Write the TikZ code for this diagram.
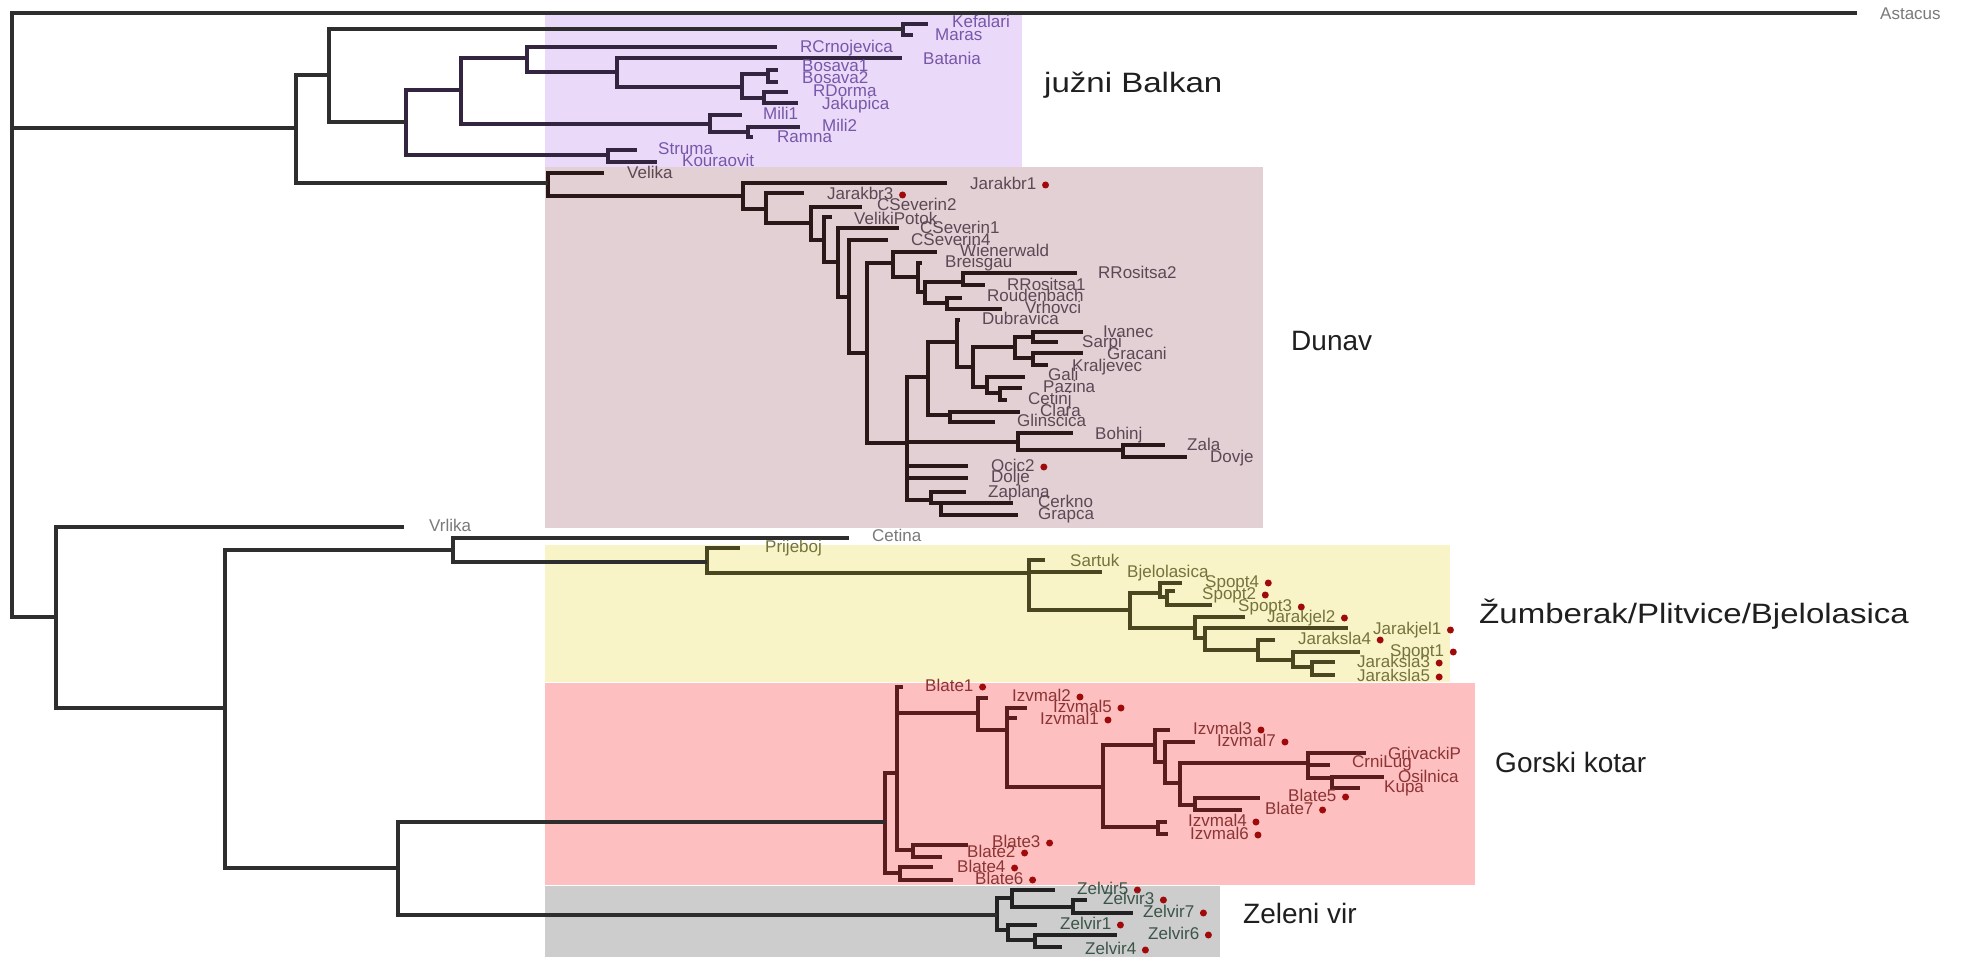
\documentclass[tikz,border=0pt]{standalone}
\usepackage{graphicx}
\usepackage{fontspec}
\setmainfont{Liberation Sans}
\pgfdeclarelayer{fg}
\pgfsetlayers{main,fg}
\definecolor{bgPu}{HTML}{EBD9FA}
\definecolor{bgDu}{HTML}{E2D0D5}
\definecolor{bgYe}{HTML}{F8F4C8}
\definecolor{bgRe}{HTML}{FDBFBF}
\definecolor{bgGr}{HTML}{CDCDCD}
\definecolor{lnOut}{HTML}{2E2E2E}
\definecolor{lnPu}{HTML}{33243F}
\definecolor{txPu}{HTML}{7657A8}
\definecolor{lnDu}{HTML}{2A1818}
\definecolor{txDu}{HTML}{5C4854}
\definecolor{lnYe}{HTML}{4A4620}
\definecolor{txYe}{HTML}{75733C}
\definecolor{lnRe}{HTML}{5A1C1C}
\definecolor{txRe}{HTML}{8C3434}
\definecolor{lnGr}{HTML}{222222}
\definecolor{txGr}{HTML}{3A5548}
\definecolor{txOut}{HTML}{7A7A7A}
\definecolor{dotred}{HTML}{A00A0A}
\tikzset{br/.style={line width=3.1pt,line join=miter,line cap=butt}}
% children of a parent: rectangular (elbow) connectors
\newcommand\kids[2]{\foreach \ch in {#2}{\draw[br] (#1) |- (\ch);}}
% leaf: name, tip x, tip y, label x, label y, text
\newcommand\leaf[6]{\coordinate (#1) at (#2,#3);%
  \begin{pgfonlayer}{fg}\node[lab] (#1-l) at (#4,#5) {#6};\end{pgfonlayer}}
\newcommand\dt[1]{\begin{pgfonlayer}{fg}\node[rdot] (#1-d) at ([xshift=9pt]#1-l.east) {};\end{pgfonlayer}}
\begin{document}
\begin{tikzpicture}[x=1pt,y=-1pt,
  lab/.style={anchor=west,inner sep=0pt,text height=12pt,text depth=3.5pt,font=\fontsize{17}{18}\selectfont},
  grp/.style={anchor=west,inner sep=0pt,text=black!88,font=\fontsize{28}{30}\selectfont},
  rdot/.style={circle,fill=dotred,draw=none,inner sep=0pt,minimum size=7pt}]
\useasboundingbox (0,0) rectangle (1965,957);
\fill[white] (0,0) rectangle (1965,957);
% clade backgrounds
\fill[bgPu] (545,15) rectangle (1022,167);
\fill[bgDu] (545,167) rectangle (1263,528);
\fill[bgYe] (545,545) rectangle (1450,682);
\fill[bgRe] (545,683) rectangle (1475,885);
\fill[bgGr] (545,886) rectangle (1220,957);

% ---------------- juzni Balkan
\begin{scope}[color=lnPu,every node/.append style={text=txPu}]
\coordinate (k0) at (903,29);
\leaf{Kefalari}{928}{24}{952}{23}{Kefalari}
\leaf{Maras}{913}{35}{935}{36}{Maras}
\coordinate (p1) at (406,122);
\coordinate (p2) at (461,90);
\coordinate (st) at (608,155);
\coordinate (p3) at (527,58);
\coordinate (mi) at (710,124);
\leaf{RCrnojevica}{777}{47}{800}{48}{RCrnojevica}
\coordinate (p4) at (617,72);
\leaf{Batania}{902}{58}{923}{60}{Batania}
\coordinate (p5) at (742,87);
\coordinate (bo) at (768,74);
\coordinate (rj) at (764,98);
\leaf{Bosava1}{778}{70}{802}{67}{Bosava1}
\leaf{Bosava2}{778}{82}{802}{79}{Bosava2}
\leaf{RDorma}{788}{92}{813}{92}{RDorma}
\leaf{Jakupica}{798}{103}{822}{105}{Jakupica}
\leaf{Mili1}{742}{115}{763}{115}{Mili1}
\coordinate (mr) at (748,132);
\leaf{Mili2}{800}{127}{822}{127}{Mili2}
\leaf{Ramna}{753}{137}{777}{138}{Ramna}
\leaf{Struma}{637}{150}{658}{150}{Struma}
\leaf{Kouraovit}{657}{162}{682}{162}{Kouraovit}
\kids{k0}{Kefalari,Maras}
\kids{p1}{p2,st}
\kids{p2}{p3,mi}
\kids{p3}{RCrnojevica,p4}
\kids{p4}{Batania,p5}
\kids{p5}{bo,rj}
\kids{bo}{Bosava1,Bosava2}
\kids{rj}{RDorma,Jakupica}
\kids{mi}{Mili1,mr}
\kids{mr}{Mili2,Ramna}
\kids{st}{Struma,Kouraovit}
\end{scope}

% ---------------- Dunav
\begin{scope}[color=lnDu,every node/.append style={text=txDu}]
\coordinate (d0) at (548,183);
\leaf{Velika}{604}{173}{627}{174}{Velika}
\coordinate (dA) at (743,196);
\leaf{Jarakbr1}{947}{183}{970}{185}{Jarakbr1}\dt{Jarakbr1}
\coordinate (dB) at (766,209);
\leaf{Jarakbr3}{804}{193}{827}{195}{Jarakbr3}\dt{Jarakbr3}
\coordinate (dC) at (811,223);
\leaf{CSeverin2}{862}{207}{877}{206}{CSeverin2}
\coordinate (dD) at (824,240);
\leaf{VelikiPotok}{832}{217}{854}{220}{VelikiPotok}
\coordinate (dE) at (838,262);
\leaf{CSeverin1}{899}{228}{920}{229}{CSeverin1}
\coordinate (dF) at (849,297);
\leaf{CSeverin4}{888}{240}{911}{241}{CSeverin4}
\coordinate (dG) at (867,353);
\coordinate (dH) at (893,263);
\coordinate (dM) at (907,443);
\leaf{Wienerwald}{937}{252}{960}{252}{Wienerwald}
\coordinate (dI) at (918,277);
\leaf{Breisgau}{922}{263}{945}{263}{Breisgau}
\coordinate (dJ) at (925,292);
\coordinate (dK) at (963,282);
\coordinate (dL) at (947,303);
\leaf{RRositsa2}{1077}{273}{1098}{274}{RRositsa2}
\leaf{RRositsa1}{985}{285}{1007}{286}{RRositsa1}
\leaf{Roudenbach}{962}{298}{987}{297}{Roudenbach}
\leaf{Vrhovci}{1002}{309}{1025}{309}{Vrhovci}
\coordinate (dN) at (928,377);
\coordinate (dO) at (1018,442);
\leaf{Ocic2}{968}{466}{991}{467}{Ocic2}\dt{Ocic2}
\leaf{Dolje}{968}{478}{991}{478}{Dolje}
\coordinate (dP) at (931,500);
\coordinate (dR) at (957,342);
\coordinate (dY) at (950,415);
\leaf{Dubravica}{960}{320}{982}{320}{Dubravica}
\coordinate (dS) at (973,367);
\coordinate (dT) at (1015,347);
\coordinate (dW) at (987,387);
\coordinate (dU) at (1033,337);
\coordinate (dV) at (1033,358);
\leaf{Ivanec}{1083}{332}{1103}{333}{Ivanec}
\leaf{Sarpi}{1058}{342}{1082}{343}{Sarpi}
\leaf{Gracani}{1083}{353}{1107}{355}{Gracani}
\leaf{Kraljevec}{1048}{365}{1072}{367}{Kraljevec}
\leaf{Gali}{1025}{377}{1048}{376}{Gali}
\coordinate (dX) at (1000,393);
\leaf{Pazina}{1022}{388}{1043}{388}{Pazina}
\leaf{CeSi}{1007}{400}{1028}{400}{Cetinj}
\leaf{Cla}{1020}{412}{1040}{412}{Clara}
\leaf{Glinscica}{995}{422}{1017}{422}{Glinscica}
\leaf{Bohinj}{1073}{433}{1095}{435}{Bohinj}
\coordinate (dZ) at (1123,450);
\leaf{Zala}{1165}{445}{1187}{446}{Zala}
\leaf{Dovje}{1187}{457}{1210}{458}{Dovje}
\leaf{Zaplana}{966}{492}{988}{493}{Zaplana}
\coordinate (dQ) at (941,503);
\leaf{Cerkno}{1013}{503}{1038}{503}{Cerkno}
\leaf{Grapca}{1018}{515}{1038}{515}{Grapca}
\kids{d0}{Velika,dA}
\kids{dA}{Jarakbr1,dB}
\kids{dB}{Jarakbr3,dC}
\kids{dC}{CSeverin2,dD}
\kids{dD}{VelikiPotok,dE}
\kids{dE}{CSeverin1,dF}
\kids{dF}{CSeverin4,dG}
\kids{dG}{dH,dM}
\kids{dH}{Wienerwald,dI}
\kids{dI}{Breisgau,dJ}
\kids{dJ}{dK,dL}
\kids{dK}{RRositsa2,RRositsa1}
\kids{dL}{Roudenbach,Vrhovci}
\kids{dM}{dN,dO,Ocic2,Dolje,dP}
\kids{dN}{dR,dY}
\kids{dR}{Dubravica,dS}
\kids{dS}{dT,dW}
\kids{dT}{dU,dV}
\kids{dU}{Ivanec,Sarpi}
\kids{dV}{Gracani,Kraljevec}
\kids{dW}{Gali,dX}
\kids{dX}{Pazina,CeSi}
\kids{dY}{Cla,Glinscica}
\kids{dO}{Bohinj,dZ}
\kids{dZ}{Zala,Dovje}
\kids{dP}{Zaplana,dQ}
\kids{dQ}{Cerkno,Grapca}
\end{scope}

% ---------------- Zumberak / Plitvice / Bjelolasica
\begin{scope}[color=lnYe,every node/.append style={text=txYe}]
\coordinate (y1) at (707,562);
\leaf{Prijeboj}{740}{548}{765}{548}{Prijeboj}
\coordinate (y2) at (1029,573);
\leaf{Sartuk}{1045}{560}{1070}{562}{Sartuk}
\leaf{Bjelolasica}{1102}{572}{1127}{573}{Bjelolasica}
\coordinate (y3) at (1130,610);
\coordinate (y4) at (1160,593);
\coordinate (y5) at (1195,628);
\leaf{Spopt4}{1182}{583}{1205}{583}{Spopt4}\dt{Spopt4}
\coordinate (y4b) at (1167,597);
\leaf{Spopt2}{1175}{591}{1202}{595}{Spopt2}\dt{Spopt2}
\leaf{Spopt3}{1212}{605}{1238}{607}{Spopt3}\dt{Spopt3}
\leaf{Jarakjel2}{1245}{617}{1267}{618}{Jarakjel2}\dt{Jarakjel2}
\coordinate (y6) at (1205,638);
\leaf{Jarakjel1}{1348}{628}{1373}{630}{Jarakjel1}\dt{Jarakjel1}
\coordinate (y7) at (1258,650);
\leaf{Jaraksla4}{1275}{640}{1298}{640}{Jaraksla4}\dt{Jaraksla4}
\coordinate (y8) at (1293,660);
\leaf{Spopt1}{1360}{652}{1390}{652}{Spopt1}\dt{Spopt1}
\coordinate (y9) at (1312,667);
\leaf{Jaraksla3}{1335}{662}{1357}{663}{Jaraksla3}\dt{Jaraksla3}
\leaf{Jaraksla5}{1335}{675}{1357}{677}{Jaraksla5}\dt{Jaraksla5}
\kids{y1}{Prijeboj,y2}
\kids{y2}{Sartuk,Bjelolasica,y3}
\kids{y3}{y4,y5}
\kids{y4}{Spopt4,y4b}
\kids{y4b}{Spopt2,Spopt3}
\kids{y5}{Jarakjel2,y6}
\kids{y6}{Jarakjel1,y7}
\kids{y7}{Jaraksla4,y8}
\kids{y8}{Spopt1,y9}
\kids{y9}{Jaraksla3,Jaraksla5}
\end{scope}

% ---------------- Gorski kotar
\begin{scope}[color=lnRe,every node/.append style={text=txRe}]
\coordinate (g0) at (885,822);
\coordinate (g1) at (897,773);
\coordinate (g9) at (900,873);
\leaf{Blate1}{903}{687}{925}{687}{Blate1}\dt{Blate1}
\coordinate (g2) at (978,713);
\coordinate (g8) at (913,850);
\leaf{Izvmal2}{988}{698}{1012}{697}{Izvmal2}\dt{Izvmal2}
\coordinate (g3) at (1007,730);
\leaf{Izvmal5}{1027}{708}{1053}{708}{Izvmal5}\dt{Izvmal5}
\leaf{Izvmal1}{1017}{718}{1040}{720}{Izvmal1}\dt{Izvmal1}
\coordinate (g4) at (1103,787);
\coordinate (g5) at (1155,745);
\coordinate (g7) at (1158,827);
\leaf{Izvmal3}{1170}{730}{1193}{730}{Izvmal3}\dt{Izvmal3}
\coordinate (g6) at (1165,762);
\leaf{Izvmal7}{1195}{742}{1217}{742}{Izvmal7}\dt{Izvmal7}
\coordinate (g6b) at (1180,783);
\coordinate (gk) at (1308,763);
\coordinate (gb) at (1195,805);
\leaf{GrivackiP}{1366}{753}{1388}{755}{GrivackiP}
\leaf{CrniLug}{1330}{765}{1352}{763}{CrniLug}
\coordinate (go) at (1332,778);
\leaf{Osilnica}{1384}{777}{1398}{778}{Osilnica}
\leaf{Kupa}{1360}{788}{1384}{788}{Kupa}
\leaf{Blate5}{1260}{798}{1288}{797}{Blate5}\dt{Blate5}
\leaf{Blate7}{1242}{810}{1265}{810}{Blate7}\dt{Blate7}
\leaf{Izvmal4}{1167}{822}{1188}{822}{Izvmal4}\dt{Izvmal4}
\leaf{Izvmal6}{1168}{834}{1190}{835}{Izvmal6}\dt{Izvmal6}
\leaf{Blate3}{968}{845}{992}{843}{Blate3}\dt{Blate3}
\leaf{Blate2}{942}{857}{967}{853}{Blate2}\dt{Blate2}
\leaf{Blate4}{933}{867}{957}{868}{Blate4}\dt{Blate4}
\leaf{Blate6}{953}{880}{975}{880}{Blate6}\dt{Blate6}
\kids{g0}{g1,g9}
\kids{g1}{Blate1,g2,g8}
\kids{g2}{Izvmal2,g3}
\kids{g3}{Izvmal5,Izvmal1,g4}
\kids{g4}{g5,g7}
\kids{g5}{Izvmal3,g6}
\kids{g6}{Izvmal7,g6b}
\kids{g6b}{gk,gb}
\kids{gk}{GrivackiP,CrniLug,go}
\kids{go}{Osilnica,Kupa}
\kids{gb}{Blate5,Blate7}
\kids{g7}{Izvmal4,Izvmal6}
\kids{g8}{Blate3,Blate2}
\kids{g9}{Blate4,Blate6}
\end{scope}

% ---------------- Zeleni vir
\begin{scope}[color=lnGr,every node/.append style={text=txGr}]
\coordinate (z0) at (997,915);
\coordinate (z1) at (1012,898);
\coordinate (z2) at (1008,930);
\leaf{Zelvir5}{1055}{890}{1077}{890}{Zelvir5}\dt{Zelvir5}
\coordinate (z3) at (1073,907);
\leaf{Zelvir3}{1087}{900}{1103}{900}{Zelvir3}\dt{Zelvir3}
\leaf{Zelvir7}{1133}{913}{1143}{913}{Zelvir7}\dt{Zelvir7}
\leaf{Zelvir1}{1037}{925}{1060}{925}{Zelvir1}\dt{Zelvir1}
\coordinate (z4) at (1035,940);
\leaf{Zelvir6}{1117}{935}{1148}{935}{Zelvir6}\dt{Zelvir6}
\leaf{Zelvir4}{1062}{947}{1085}{950}{Zelvir4}\dt{Zelvir4}
\kids{z0}{z1,z2}
\kids{z1}{Zelvir5,z3}
\kids{z3}{Zelvir3,Zelvir7}
\kids{z2}{Zelvir1,z4}
\kids{z4}{Zelvir6,Zelvir4}
\end{scope}

% ---------------- backbone
\begin{scope}[color=lnOut,every node/.append style={text=txOut}]
\coordinate (r) at (12,315);
\coordinate (a1) at (296,128);
\coordinate (a2) at (329,75);
\coordinate (b1) at (56,617);
\coordinate (b2) at (225,708);
\coordinate (b3) at (453,550);
\coordinate (b4) at (398,868);
\leaf{Astacus}{1857}{13}{1880}{15}{Astacus}
\leaf{Vrlika}{404}{527}{429}{527}{Vrlika}
\leaf{Cetina}{849}{538}{872}{537}{Cetina}
\kids{r}{Astacus,a1,b1}
\kids{a1}{a2,d0}
\kids{a2}{k0,p1}
\kids{b1}{Vrlika,b2}
\kids{b2}{b3,b4}
\kids{b3}{Cetina,y1}
\kids{b4}{g0,z0}
\end{scope}

% ---------------- group labels
\begin{pgfonlayer}{fg}
\node[grp] (gJB) at (1044,85) {\scalebox{1.18}[1]{južni Balkan}};
\node[grp] (gDu) at (1291,341) {Dunav};
\node[grp] (gZu) at (1479,614) {\scalebox{1.18}[1]{Žumberak/Plitvice/Bjelolasica}};
\node[grp] (gGK) at (1495,762) {Gorski kotar};
\node[grp] (gZV) at (1243,913) {Zeleni vir};
\end{pgfonlayer}
\end{tikzpicture}
\end{document}
